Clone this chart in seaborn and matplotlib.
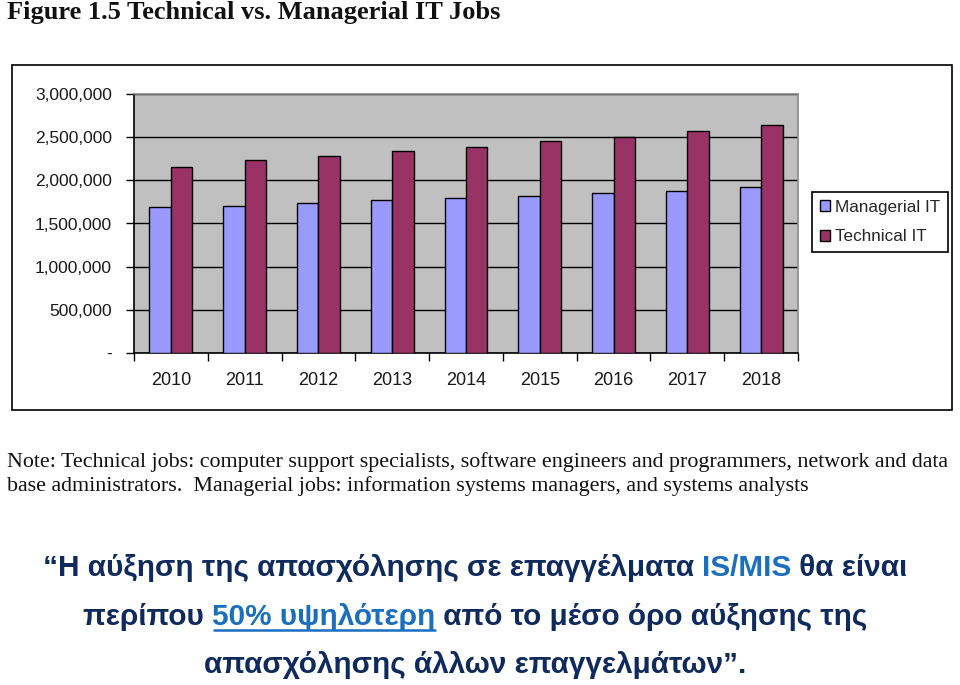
import matplotlib
matplotlib.use("Agg")
import matplotlib.pyplot as plt
import seaborn as sns
import pandas as pd
from matplotlib.patches import Rectangle
from matplotlib.lines import Line2D

# ---- data ----
years = ["2010", "2011", "2012", "2013", "2014", "2015", "2016", "2017", "2018"]
managerial = [1690000, 1700000, 1740000, 1770000, 1800000, 1820000, 1850000, 1880000, 1920000]
technical = [2160000, 2230000, 2280000, 2340000, 2390000, 2460000, 2500000, 2570000, 2640000]
series_names = ["Managerial IT", "Technical IT"]
ytick_values = [0, 500000, 1000000, 1500000, 2000000, 2500000, 3000000]
ytick_labels = ["-", "500,000", "1,000,000", "1,500,000", "2,000,000", "2,500,000", "3,000,000"]

df = pd.DataFrame({
    "year": years * 2,
    "jobs": managerial + technical,
    "series": [series_names[0]] * len(years) + [series_names[1]] * len(years),
})

sns.set_theme(style="white")
plt.rcParams["font.family"] = ["Liberation Sans", "DejaVu Sans"]

fig = plt.figure(figsize=(9.6, 6.85), dpi=100)
W, H = 960, 685

def fx(px):
    return px / W

def fy(py):
    return 1 - py / H

# outer chart frame
fig.patches.append(Rectangle((fx(12), fy(410)), fx(952) - fx(12), fy(65) - fy(410),
                             transform=fig.transFigure, fill=False, edgecolor="black",
                             linewidth=1.2, zorder=0))

ax = fig.add_axes([fx(134), fy(353), fx(798) - fx(134), fy(94) - fy(353)])
ax.set_facecolor("#C0C0C0")
ax.set_axisbelow(True)

sns.barplot(data=df, x="year", y="jobs", hue="series", order=years,
            hue_order=series_names, palette=["#9999FF", "#993366"],
            width=0.58, gap=0, edgecolor="black", linewidth=1.0,
            saturation=1, errorbar=None, ax=ax, zorder=3)

ax.set_xlim(-0.5, len(years) - 0.5)
ax.set_ylim(0, 3000000)
ax.set_yticks(ytick_values)
ax.set_yticklabels(ytick_labels)
ax.yaxis.grid(True, color="black", linewidth=1.0, zorder=1)
ax.xaxis.grid(False)
ax.set_xlabel("")
ax.set_ylabel("")

ax.set_xticks(range(len(years)))
ax.set_xticklabels(years)
ax.set_xticks([i - 0.5 for i in range(len(years) + 1)], minor=True)
ax.tick_params(axis="x", which="major", length=0, pad=14, labelsize=13, colors="#1a1a1a")
ax.tick_params(axis="x", which="minor", length=6, width=1, color="black", direction="out", bottom=True)
ax.tick_params(axis="y", which="major", length=6, width=1, color="black", direction="out", left=True,
               labelsize=12.5, pad=10, labelcolor="#1a1a1a")

for side in ["left", "bottom"]:
    ax.spines[side].set_color("black")
    ax.spines[side].set_linewidth(1.2)
for side in ["top", "right"]:
    ax.spines[side].set_color("#8a8a8a")
    ax.spines[side].set_linewidth(1.2)

handles, labels = ax.get_legend_handles_labels()
if ax.legend_:
    ax.legend_.remove()
leg = fig.legend(handles, labels, loc="upper left",
                 bbox_to_anchor=(fx(812), fy(192)), bbox_transform=fig.transFigure,
                 fontsize=12.3, frameon=True, fancybox=False, edgecolor="black",
                 framealpha=1, handlelength=0.6, handleheight=0.6, handletextpad=0.3,
                 borderpad=0.45, labelspacing=0.85, borderaxespad=0)
leg.get_frame().set_linewidth(1.2)

# title
fig.text(fx(7), fy(13), "Figure 1.5 Technical vs. Managerial IT Jobs", fontsize=19,
         fontweight="bold", family="Liberation Serif", va="center", ha="left", color="#111111")

# note
fig.text(fx(7), fy(462), "Note: Technical jobs: computer support specialists, software engineers and programmers, network and data",
         fontsize=15.8, family="Liberation Serif", va="center", ha="left", color="#111111")
fig.text(fx(7), fy(486), "base administrators.  Managerial jobs: information systems managers, and systems analysts",
         fontsize=15.8, family="Liberation Serif", va="center", ha="left", color="#111111")

# Greek quote with coloured segments
navy = "#0F2A5C"
blue = "#1A6FBF"
quote_lines = [
    [("\u201cΗ αύξηση της απασχόλησης σε επαγγέλματα ", navy, False), ("IS/MIS", blue, False), (" θα είναι", navy, False)],
    [("περίπου ", navy, False), ("50% υψηλότερη", blue, True), (" από το μέσο όρο αύξησης της", navy, False)],
    [("απασχόλησης άλλων επαγγελμάτων\u201d.", navy, False)],
]
line_y = [568, 617, 665]
center_x = 475
qsize = 21.4

fig.canvas.draw()
renderer = fig.canvas.get_renderer()
for segs, py in zip(quote_lines, line_y):
    texts = []
    widths = []
    for s, c, u in segs:
        t = fig.text(0, fy(py), s, fontsize=qsize, fontweight="bold", color=c,
                     va="center", ha="left", family=["Liberation Sans", "DejaVu Sans"])
        t.set_text(s.replace(" ", "\u00a0"))
        bb = t.get_window_extent(renderer)
        t.set_text(s)
        texts.append((t, u))
        widths.append(bb.width)
    total = sum(widths)
    x = center_x - total / 2
    for (t, u), w in zip(texts, widths):
        t.set_x(fx(x))
        if u:
            fig.add_artist(Line2D([fx(x + 2), fx(x + w)], [fy(py + 13), fy(py + 13)],
                                  transform=fig.transFigure, color=t.get_color(), linewidth=1.8))
        x += w

fig.savefig("out.png", dpi=100)
